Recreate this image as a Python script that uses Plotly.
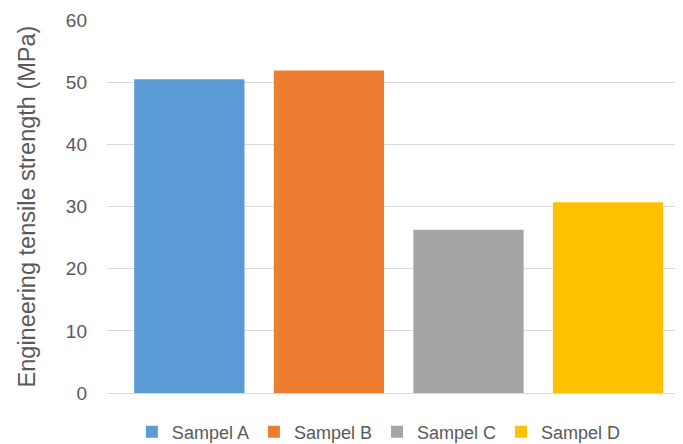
import plotly.graph_objects as go

categories = ["Sampel A", "Sampel B", "Sampel C", "Sampel D"]
values = [50.5, 51.9, 26.3, 30.7]
colors = ["#5B9BD5", "#ED7D31", "#A5A5A5", "#FFC000"]
y_ticks = [0, 10, 20, 30, 40, 50, 60]

fig = go.Figure()
for cat, val, col in zip(categories, values, colors):
    fig.add_trace(go.Bar(x=[cat], y=[val], name=cat, marker=dict(color=col, line=dict(width=0)),
                         width=0.79))

font_fam = "Liberation Sans, Arial, sans-serif"
fig.update_layout(
    width=683, height=444,
    margin=dict(l=99, r=8, t=12, b=59, autoexpand=False),
    paper_bgcolor="white", plot_bgcolor="white",
    barmode="overlay",
    font=dict(family=font_fam, color="#595959", size=18),
    showlegend=True,
    legend=dict(orientation="h", x=0.472, xanchor="center", y=-0.055, yanchor="top",
                font=dict(size=18, color="#595959"), itemwidth=30, traceorder="normal"),
    xaxis=dict(type="category", range=[-0.59, 3.537], showticklabels=False, showgrid=False,
               showline=True, linecolor="#D9D9D9", linewidth=1, ticks="", automargin=False),
    yaxis=dict(range=[0, 60.05], tickvals=y_ticks, showgrid=True, gridcolor="#D9D9D9", gridwidth=1,
               zeroline=False, showline=False, ticks="", ticklen=0, automargin=False,
               ticklabelstandoff=19,
               tickfont=dict(size=19, color="#595959"),
               title=dict(text="Engineering tensile strength (MPa)", font=dict(size=23.5, color="#595959"),
                          standoff=23)),
)
fig.write_html("out.html")
